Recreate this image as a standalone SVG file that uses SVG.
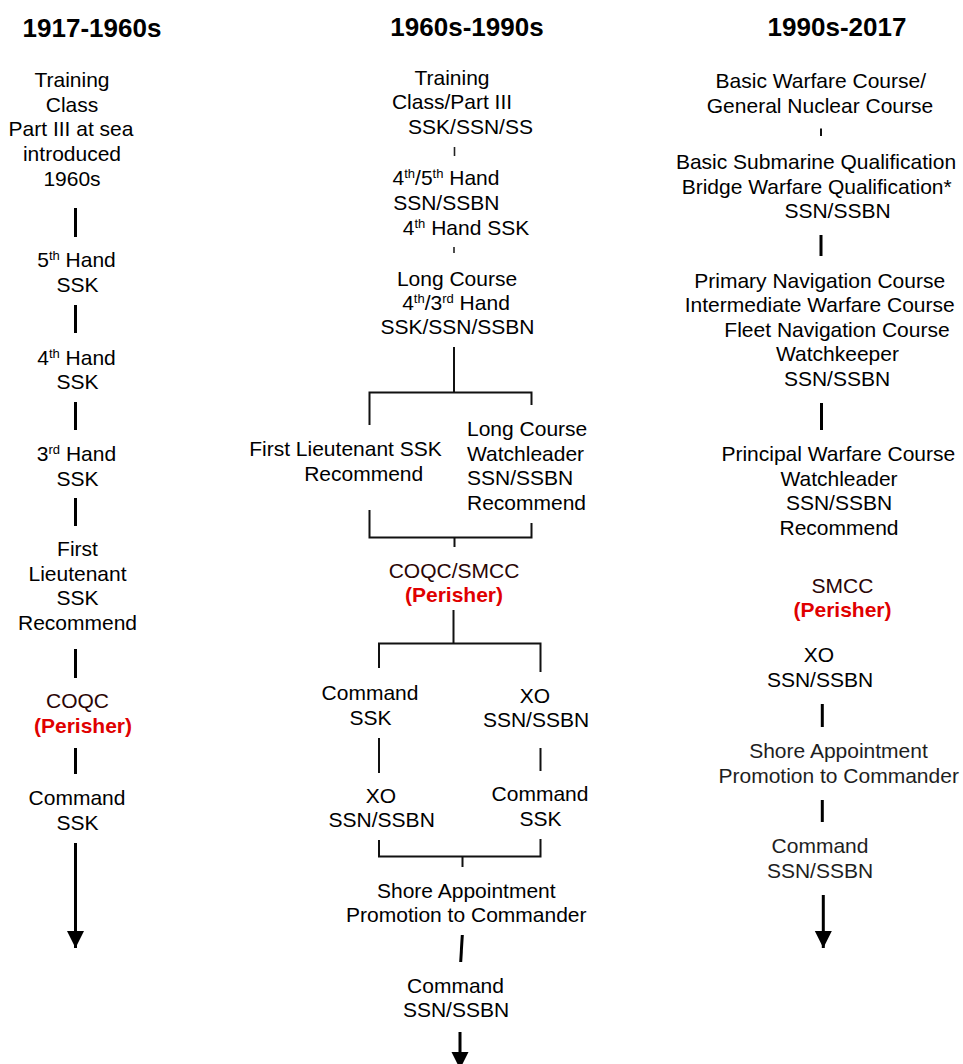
<svg xmlns="http://www.w3.org/2000/svg" width="963" height="1064" viewBox="0 0 963 1064">
  <defs>
    <style>
      text { font-family: "Liberation Sans", Arial, sans-serif; font-size: 21px; fill: #000; }
      .title { font-weight: bold; font-size: 26px; text-anchor: middle; }
      .c { text-anchor: middle; }
      .l { text-anchor: start; }
      .per { fill: #e00000; font-weight: bold; }
      .dk { fill: #2a0505; }
      .soft { fill: #1e1e1e; }
      .sup { font-size: 13px; }
      .ln { stroke: #000; fill: none; stroke-width: 3; }
      .br { stroke: #111; fill: none; stroke-width: 2; }
      .thin { stroke: #222; fill: none; stroke-width: 1.6; }
    </style>
    <marker id="arrow" markerUnits="userSpaceOnUse" markerWidth="18" markerHeight="18" refX="17" refY="8.5" orient="auto">
      <path d="M0,0 L17,8.5 L0,17 z" fill="#000"/>
    </marker>
  </defs>
  <rect width="963" height="1064" fill="#fff"/>

  <!-- Column headings -->
  <g id="headings">
    <text class="title" x="92" y="37">1917-1960s</text>
    <text class="title" x="467" y="36">1960s-1990s</text>
    <text class="title" x="837" y="36">1990s-2017</text>
  </g>

  <!-- Connectors -->
  <g id="connectors">
    <!-- 1917-1960s -->
    <line class="ln" x1="75.5" y1="208" x2="75.5" y2="237"/>
    <line class="ln" x1="75.5" y1="305" x2="75.5" y2="333"/>
    <line class="ln" x1="75.5" y1="402" x2="75.5" y2="430"/>
    <line class="ln" x1="75.5" y1="498" x2="75.5" y2="526"/>
    <line class="ln" x1="75.5" y1="649" x2="75.5" y2="678"/>
    <line class="ln" x1="75.5" y1="748" x2="75.5" y2="774"/>
    <line class="ln" x1="75.5" y1="843" x2="75.5" y2="948" marker-end="url(#arrow)"/>

    <!-- 1960s-1990s -->
    <line class="thin" x1="454.5" y1="147" x2="454.5" y2="156"/>
    <line class="thin" x1="454" y1="247" x2="454" y2="253"/>
    <line class="br" x1="454" y1="347" x2="454" y2="392"/>
    <path class="br" d="M369.5,425 V392.5 H531.5 V405"/>
    <path class="br" d="M369.5,510 V537.5 H531.5 V523"/>
    <line class="br" x1="454.5" y1="537.5" x2="454.5" y2="547"/>
    <line class="br" x1="453.5" y1="610" x2="453.5" y2="643.5"/>
    <path class="br" d="M379,668 V643.5 H540.5 V672"/>
    <line class="br" x1="379" y1="738" x2="379" y2="773"/>
    <line class="br" x1="540.5" y1="748" x2="540.5" y2="771"/>
    <path class="br" d="M379,840 V856.5 H540.5 V839"/>
    <line class="br" x1="462.5" y1="856.5" x2="462.5" y2="867"/>
    <line class="ln" x1="462.3" y1="935" x2="460.7" y2="962"/>
    <line class="ln" x1="460" y1="1032" x2="460" y2="1069" marker-end="url(#arrow)"/>

    <!-- 1990s-2017 -->
    <line class="br" x1="821" y1="128.5" x2="821" y2="136"/>
    <line class="ln" x1="821" y1="235" x2="821" y2="256"/>
    <line class="ln" x1="821.5" y1="403" x2="821.5" y2="430"/>
    <line class="ln" x1="822.3" y1="704" x2="822.3" y2="727"/>
    <line class="ln" x1="822.3" y1="800" x2="822.3" y2="822"/>
    <line class="ln" x1="823.3" y1="895" x2="823.3" y2="948" marker-end="url(#arrow)"/>
  </g>

  <!-- 1917-1960s column -->
  <g id="c1-training">
    <text class="c" x="72" y="87">Training</text>
    <text class="c" x="72" y="111.7">Class</text>
    <text class="c" x="71" y="136.3">Part III at sea</text>
    <text class="c" x="72" y="161">introduced</text>
    <text class="c" x="72" y="185.7">1960s</text>
  </g>
  <g id="c1-fifth-hand">
    <text class="c" x="76.5" y="267">5<tspan class="sup" dy="-7">th</tspan><tspan dy="7"> Hand</tspan></text>
    <text class="c" x="77.5" y="291.7">SSK</text>
  </g>
  <g id="c1-fourth-hand">
    <text class="c" x="76.5" y="364.6">4<tspan class="sup" dy="-7">th</tspan><tspan dy="7"> Hand</tspan></text>
    <text class="c" x="77.5" y="389.3">SSK</text>
  </g>
  <g id="c1-third-hand">
    <text class="c" x="76.5" y="461">3<tspan class="sup" dy="-7">rd</tspan><tspan dy="7"> Hand</tspan></text>
    <text class="c" x="77.5" y="485.7">SSK</text>
  </g>
  <g id="c1-first-lieutenant">
    <text class="c" x="77.5" y="556">First</text>
    <text class="c" x="77.5" y="580.7">Lieutenant</text>
    <text class="c" x="77.5" y="605.3">SSK</text>
    <text class="c" x="77.5" y="630">Recommend</text>
  </g>
  <g id="c1-coqc">
    <text class="c dk" x="77.5" y="708">COQC</text>
    <text class="c per" x="83" y="732.5">(Perisher)</text>
  </g>
  <g id="c1-command">
    <text class="c" x="77" y="805">Command</text>
    <text class="c" x="77.5" y="829.7">SSK</text>
  </g>

  <!-- 1960s-1990s column -->
  <g id="c2-training">
    <text class="c" x="452" y="84.5">Training</text>
    <text class="c" x="452" y="109">Class/Part III</text>
    <text class="c" x="470.5" y="133.5">SSK/SSN/SS</text>
  </g>
  <g id="c2-hand">
    <text class="c" x="446" y="184.5">4<tspan class="sup" dy="-7">th</tspan><tspan dy="7">/5</tspan><tspan class="sup" dy="-7">th</tspan><tspan dy="7"> Hand</tspan></text>
    <text class="c" x="446.3" y="209.5">SSN/SSBN</text>
    <text class="c" x="466" y="235">4<tspan class="sup" dy="-7">th</tspan><tspan dy="7"> Hand SSK</tspan></text>
  </g>
  <g id="c2-long-course">
    <text class="c" x="457" y="286">Long Course</text>
    <text class="c" x="456" y="309.5">4<tspan class="sup" dy="-7">th</tspan><tspan dy="7">/3</tspan><tspan class="sup" dy="-7">rd</tspan><tspan dy="7"> Hand</tspan></text>
    <text class="c" x="457.5" y="333.5">SSK/SSN/SSBN</text>
  </g>
  <g id="c2-first-lieutenant">
    <text class="c" x="345.5" y="456">First Lieutenant SSK</text>
    <text class="c" x="363.7" y="480.5">Recommend</text>
  </g>
  <g id="c2-watchleader">
    <text class="l" x="467" y="436">Long Course</text>
    <text class="l" x="467" y="460.5">Watchleader</text>
    <text class="l" x="467" y="485">SSN/SSBN</text>
    <text class="l" x="467" y="509.5">Recommend</text>
  </g>
  <g id="c2-coqc-smcc">
    <text class="c dk" x="454" y="577.6">COQC/SMCC</text>
    <text class="c per" x="454" y="602">(Perisher)</text>
  </g>
  <g id="c2-command-ssk">
    <text class="c" x="370" y="700">Command</text>
    <text class="c" x="370.5" y="724.5">SSK</text>
  </g>
  <g id="c2-xo-ssn">
    <text class="c" x="535" y="702.6">XO</text>
    <text class="c" x="536" y="727">SSN/SSBN</text>
  </g>
  <g id="c2-xo-after">
    <text class="c" x="381" y="802.6">XO</text>
    <text class="c" x="381.7" y="827">SSN/SSBN</text>
  </g>
  <g id="c2-command-after">
    <text class="c" x="540" y="801">Command</text>
    <text class="c" x="540.5" y="825.5">SSK</text>
  </g>
  <g id="c2-shore">
    <text class="c" x="466.3" y="897.6">Shore Appointment</text>
    <text class="c" x="466.3" y="922">Promotion to Commander</text>
  </g>
  <g id="c2-command-ssn">
    <text class="c" x="455.5" y="992.6">Command</text>
    <text class="c" x="456" y="1017">SSN/SSBN</text>
  </g>

  <!-- 1990s-2017 column -->
  <g id="c3-basic-course">
    <text class="c" x="820.8" y="88">Basic Warfare Course/</text>
    <text class="c" x="820" y="112.5">General Nuclear Course</text>
  </g>
  <g id="c3-qualification">
    <text class="c" x="816" y="169">Basic Submarine Qualification</text>
    <text class="c" x="816.7" y="193.5">Bridge Warfare Qualification*</text>
    <text class="c" x="837.5" y="218">SSN/SSBN</text>
  </g>
  <g id="c3-watchkeeper">
    <text class="c" x="819.7" y="287.5">Primary Navigation Course</text>
    <text class="c" x="819.7" y="312">Intermediate Warfare Course</text>
    <text class="c" x="837" y="336.5">Fleet Navigation Course</text>
    <text class="c" x="837.5" y="361">Watchkeeper</text>
    <text class="c" x="837" y="385.5">SSN/SSBN</text>
  </g>
  <g id="c3-watchleader">
    <text class="c" x="838.3" y="461">Principal Warfare Course</text>
    <text class="c" x="839" y="485.5">Watchleader</text>
    <text class="c" x="839" y="510">SSN/SSBN</text>
    <text class="c" x="839" y="534.5">Recommend</text>
  </g>
  <g id="c3-smcc">
    <text class="c dk" x="842.5" y="593">SMCC</text>
    <text class="c per" x="842.5" y="617">(Perisher)</text>
  </g>
  <g id="c3-xo">
    <text class="c" x="819" y="662">XO</text>
    <text class="c" x="820" y="686.5">SSN/SSBN</text>
  </g>
  <g id="c3-shore">
    <text class="c soft" x="838.5" y="758">Shore Appointment</text>
    <text class="c soft" x="838.7" y="782.5">Promotion to Commander</text>
  </g>
  <g id="c3-command">
    <text class="c soft" x="820" y="853">Command</text>
    <text class="c soft" x="820" y="877.5">SSN/SSBN</text>
  </g>
</svg>
